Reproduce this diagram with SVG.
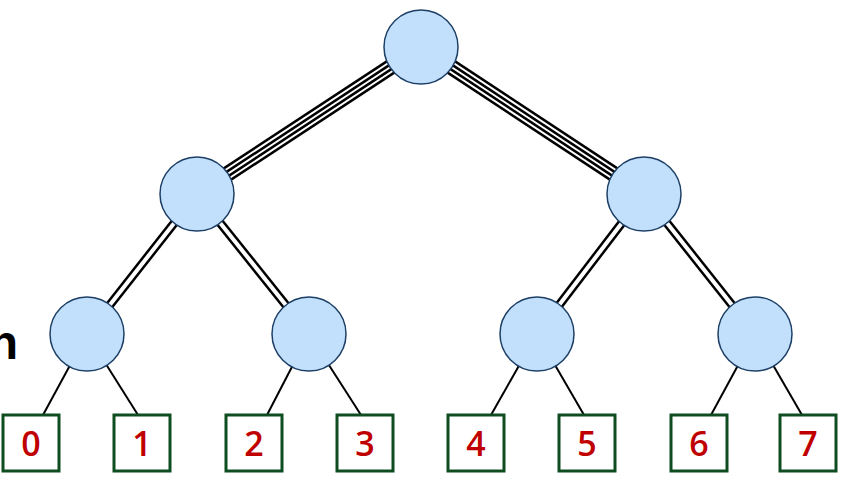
<svg xmlns="http://www.w3.org/2000/svg" width="853" height="491" viewBox="0 0 853 491">
<style>
.n{fill:#c2e0fb;stroke:#1d3f66;stroke-width:1.5}
.b{fill:#fff;stroke:#0d4d20;stroke-width:3}
.t{font-family:"Open Sans","DejaVu Sans",sans-serif;font-size:34px;font-weight:600;fill:#c00000;text-anchor:middle}
.k4a{stroke:#000;stroke-width:16}.k4b{stroke:#fff;stroke-width:11}.k4c{stroke:#000;stroke-width:7}.k4d{stroke:#fff;stroke-width:2}
.k2a{stroke:#000;stroke-width:9}.k2b{stroke:#fff;stroke-width:4}
.k1{stroke:#000;stroke-width:2}
</style>
<g id="connectors" fill="none">
<g id="e-r-l"><line class="k4a" x1="421" y1="47" x2="197" y2="194"/><line class="k4b" x1="421" y1="47" x2="197" y2="194"/><line class="k4c" x1="421" y1="47" x2="197" y2="194"/><line class="k4d" x1="421" y1="47" x2="197" y2="194"/></g>
<g id="e-r-r"><line class="k4a" x1="421" y1="47" x2="644" y2="194"/><line class="k4b" x1="421" y1="47" x2="644" y2="194"/><line class="k4c" x1="421" y1="47" x2="644" y2="194"/><line class="k4d" x1="421" y1="47" x2="644" y2="194"/></g>
<line class="k2a" x1="197" y1="194" x2="87" y2="334"/><line class="k2b" x1="197" y1="194" x2="87" y2="334"/>
<line class="k2a" x1="197" y1="194" x2="309" y2="334"/><line class="k2b" x1="197" y1="194" x2="309" y2="334"/>
<line class="k2a" x1="644" y1="194" x2="537" y2="334"/><line class="k2b" x1="644" y1="194" x2="537" y2="334"/>
<line class="k2a" x1="644" y1="194" x2="755" y2="334"/><line class="k2b" x1="644" y1="194" x2="755" y2="334"/>
<line class="k1" x1="87" y1="334" x2="43" y2="415"/><line class="k1" x1="87" y1="334" x2="138" y2="415"/>
<line class="k1" x1="309" y1="334" x2="267" y2="415"/><line class="k1" x1="309" y1="334" x2="361" y2="415"/>
<line class="k1" x1="537" y1="334" x2="491" y2="415"/><line class="k1" x1="537" y1="334" x2="584" y2="415"/>
<line class="k1" x1="755" y1="334" x2="711" y2="415"/><line class="k1" x1="755" y1="334" x2="802" y2="415"/>
</g>
<g id="root"><circle class="n" cx="421" cy="47" r="37"/></g>
<g id="n-l"><circle class="n" cx="197" cy="194" r="37"/></g>
<g id="n-r"><circle class="n" cx="644" cy="194" r="37"/></g>
<g id="n-ll"><circle class="n" cx="87" cy="334" r="37"/></g>
<g id="n-lr"><circle class="n" cx="309" cy="334" r="37"/></g>
<g id="n-rl"><circle class="n" cx="537" cy="334" r="37"/></g>
<g id="n-rr"><circle class="n" cx="755" cy="334" r="37"/></g>
<g id="leaf0"><rect class="b" x="3" y="415" width="56" height="56"/><text class="t" x="31" y="456">0</text></g>
<g id="leaf1"><rect class="b" x="114" y="415" width="56" height="56"/><text class="t" x="142" y="456">1</text></g>
<g id="leaf2"><rect class="b" x="226" y="415" width="56" height="56"/><text class="t" x="254" y="456">2</text></g>
<g id="leaf3"><rect class="b" x="337" y="415" width="56" height="56"/><text class="t" x="365" y="456">3</text></g>
<g id="leaf4"><rect class="b" x="448" y="415" width="56" height="56"/><text class="t" x="476" y="456">4</text></g>
<g id="leaf5"><rect class="b" x="559" y="415" width="56" height="56"/><text class="t" x="587" y="456">5</text></g>
<g id="leaf6"><rect class="b" x="671" y="415" width="56" height="56"/><text class="t" x="699" y="456">6</text></g>
<g id="leaf7"><rect class="b" x="780" y="415" width="56" height="56"/><text class="t" x="808" y="456">7</text></g>
<text x="18" y="359" font-family="Liberation Sans,sans-serif" font-weight="bold" font-size="48" text-anchor="end">h</text>
</svg>
